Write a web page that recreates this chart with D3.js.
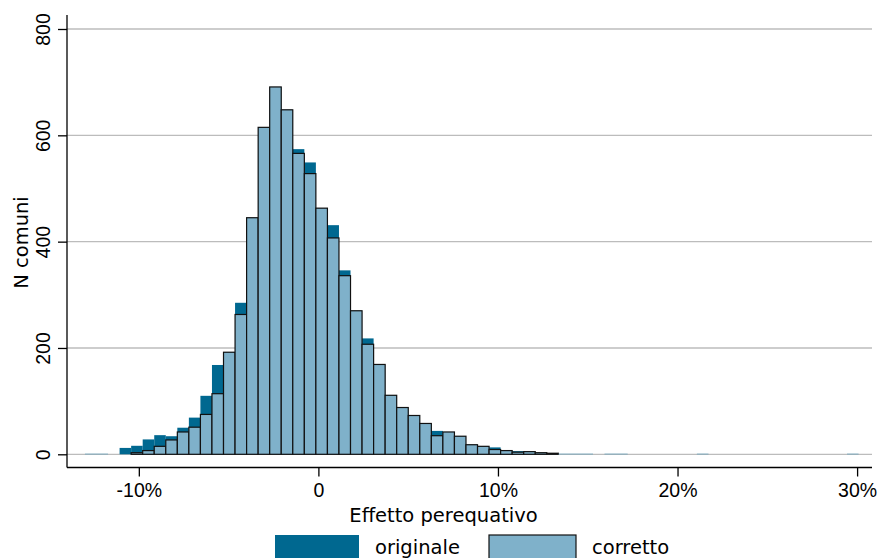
<!DOCTYPE html>
<html>
<head>
<meta charset="utf-8">
<script src="https://cdn.jsdelivr.net/npm/d3@7/dist/d3.min.js"></script>
<style>
  body { margin: 0; background: #fff; }
  svg { display: block; }
  .tick-lbl { font-family: "Liberation Sans", Arial, sans-serif; font-size: 19.5px; fill: #000; }
  .title-lbl { font-family: "DejaVu Sans", sans-serif; font-size: 19.5px; fill: #000; }
</style>
</head>
<body>
<div id="chart"></div>
<script>
// histogram bins (percent)
var binStart = -13.0;
var binWidth = 0.643;

// counts per bin
var originale = [1, 1, 0, 12, 16, 28, 36, 34, 50, 69,
  110, 168, 192, 285, 445, 615, 691, 648, 574, 549,
  463, 431, 346, 270, 218, 169, 111, 88, 73, 58,
  44, 42, 34, 18, 15, 13, 7, 6, 5, 3,
  2, 1, 1, 1, 0, 1, 1, 0, 0, 0,
  0, 0, 0, 1, 0, 0, 0, 0, 0, 0,
  0, 0, 0, 0, 0, 0, 1];
var corretto = [1, 1, 0, 0, 3, 7, 15, 27, 42, 51,
  75, 114, 192, 263, 445, 615, 691, 648, 566, 528,
  463, 407, 336, 270, 207, 169, 111, 88, 73, 58,
  35, 42, 34, 18, 15, 9, 7, 4, 5, 3,
  2, 1, 1, 1, 0, 1, 1, 0, 0, 0,
  0, 0, 0, 1, 0, 0, 0, 0, 0, 0,
  0, 0, 0, 0, 0, 0, 1];

var xTicks = [-10, 0, 10, 20, 30];
var xTickLabels = ["-10%", "0", "10%", "20%", "30%"];
var yTicks = [0, 200, 400, 600, 800];

var svgWidth = 879, svgHeight = 558;
var darkCol = "#006890", lightCol = "#7fb1ca";

var svg = d3.select("#chart").append("svg")
  .attr("width", svgWidth)
  .attr("height", svgHeight);

var x = d3.scaleLinear().domain([-14, 30.83]).range([67, 872]);
var y = d3.scaleLinear().domain([0, 800]).range([454.3, 29]);

var axisY = 467.5;

// gridlines
svg.append("g").selectAll("line")
  .data(yTicks)
  .enter().append("line")
  .attr("x1", 67).attr("x2", 872)
  .attr("y1", d => y(d)).attr("y2", d => y(d))
  .attr("stroke", "#bcbcbc")
  .attr("stroke-width", 1.3);

function bars(data, cls) {
  return svg.append("g").attr("class", cls).selectAll("rect")
    .data(data.map((v, i) => ({i: i, v: v})).filter(d => d.v > 0))
    .enter().append("rect")
    .attr("x", d => x(binStart + d.i * binWidth))
    .attr("width", d => x(binStart + (d.i + 1) * binWidth) - x(binStart + d.i * binWidth))
    .attr("y", d => y(d.v))
    .attr("height", d => y(0) - y(d.v));
}

bars(originale, "orig").attr("fill", darkCol).attr("fill-opacity", d => d.v > 1 ? 1 : 0.45);
// single-count bars are barely visible in the original, keep them faint
bars(corretto, "corr")
  .attr("fill", lightCol)
  .attr("stroke", d => d.v > 1 ? "#111" : "none")
  .attr("stroke-width", 1.2);

// y axis
var yAxis = svg.append("g").attr("transform", "translate(67,0)")
  .call(d3.axisLeft(y).tickValues(yTicks).tickSize(9).tickSizeOuter(0).tickFormat(""));
yAxis.select(".domain").attr("d", "M0,15V" + axisY).attr("stroke", "#000").attr("stroke-width", 1.3);
yAxis.selectAll(".tick line").attr("stroke", "#000").attr("stroke-width", 1.3);
yAxis.selectAll(".tick").append("text")
  .attr("class", "tick-lbl")
  .attr("transform", "translate(-17,0) rotate(-90)")
  .attr("text-anchor", "middle")
  .attr("x", 0).attr("y", 0)
  .attr("fill", "#000")
  .text(d => d);

// x axis
var xAxis = svg.append("g").attr("transform", "translate(0," + axisY + ")")
  .call(d3.axisBottom(x).tickValues(xTicks).tickSize(9).tickSizeOuter(0).tickFormat(""));
xAxis.select(".domain").attr("d", "M67,0H872").attr("stroke", "#000").attr("stroke-width", 1.3);
xAxis.selectAll(".tick line").attr("stroke", "#000").attr("stroke-width", 1.3);
xAxis.selectAll(".tick").append("text")
  .attr("class", "tick-lbl")
  .attr("text-anchor", "middle")
  .attr("y", 29)
  .attr("fill", "#000")
  .text((d, i) => xTickLabels[i]);

// axis titles
svg.append("text")
  .attr("class", "title-lbl")
  .attr("text-anchor", "middle")
  .attr("x", 443.5).attr("y", 522)
  .text("Effetto perequativo");

svg.append("text")
  .attr("class", "title-lbl")
  .attr("text-anchor", "middle")
  .attr("transform", "translate(28,242.5) rotate(-90)")
  .text("N comuni");

// legend
var legend = svg.append("g");
legend.append("rect").attr("x", 275).attr("y", 535).attr("width", 84).attr("height", 26)
  .attr("fill", darkCol);
legend.append("text").attr("class", "title-lbl").attr("x", 375).attr("y", 554).text("originale");
legend.append("rect").attr("x", 489).attr("y", 535).attr("width", 87).attr("height", 26)
  .attr("fill", lightCol).attr("stroke", "#111").attr("stroke-width", 1.2);
legend.append("text").attr("class", "title-lbl").attr("x", 592).attr("y", 554).text("corretto");
</script>
</body>
</html>
